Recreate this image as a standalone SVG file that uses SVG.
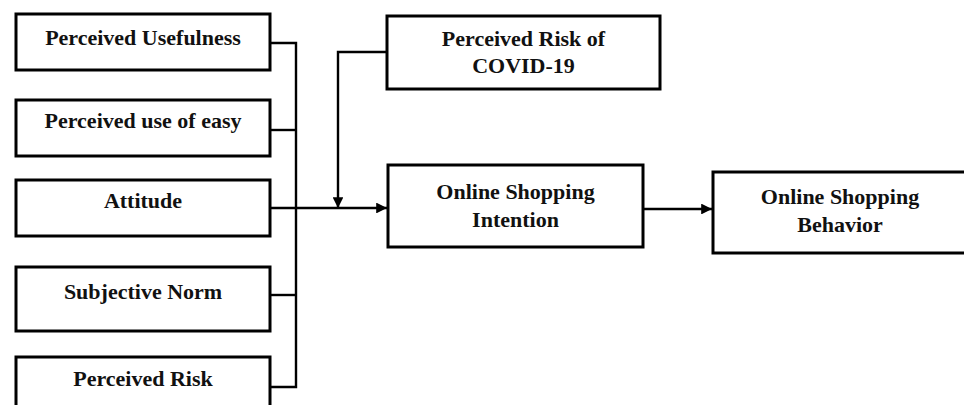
<svg xmlns="http://www.w3.org/2000/svg" width="964" height="405" viewBox="0 0 964 405">
<defs>
<style>
.box{fill:#fff;stroke:#000;stroke-width:3}
.t{font-family:"Liberation Serif","Times New Roman",serif;font-weight:bold;font-size:22px;fill:#111;text-anchor:middle}
.c{fill:none;stroke:#000;stroke-width:2.4}
</style>
<marker id="ah" viewBox="0 0 10 10" refX="10" refY="5" markerWidth="4.5" markerHeight="4.5" markerUnits="strokeWidth" orient="auto">
<path d="M0,0 L10,5 L0,10 Z" fill="#000"/>
</marker>
</defs>
<rect width="964" height="405" fill="#fff"/>
<g id="connectors">
<path class="c" d="M270,43 H296 V387 H270"/>
<path class="c" d="M270,130 H296"/>
<path class="c" d="M270,295 H296"/>
<path class="c" d="M270,208 H387" marker-end="url(#ah)"/>
<path class="c" d="M387,52 H338 V208" marker-end="url(#ah)"/>
<path class="c" d="M643,209 H712" marker-end="url(#ah)"/>
</g>
<g id="n1"><rect class="box" x="16" y="14" width="254" height="56"/><text class="t" x="143" y="45">Perceived Usefulness</text></g>
<g id="n2"><rect class="box" x="16" y="100" width="254" height="56"/><text class="t" x="143" y="128">Perceived use of easy</text></g>
<g id="n3"><rect class="box" x="16" y="180" width="254" height="56"/><text class="t" x="143" y="208">Attitude</text></g>
<g id="n4"><rect class="box" x="16" y="267" width="254" height="64"/><text class="t" x="143" y="299">Subjective Norm</text></g>
<g id="n5"><rect class="box" x="16" y="357" width="254" height="60"/><text class="t" x="143" y="386">Perceived Risk</text></g>
<g id="n6"><rect class="box" x="387" y="16" width="273" height="73"/><text class="t" x="523.5" y="46">Perceived Risk of</text><text class="t" x="523.5" y="73">COVID-19</text></g>
<g id="n7"><rect class="box" x="388" y="165" width="255" height="82"/><text class="t" x="515.5" y="199">Online Shopping</text><text class="t" x="515.5" y="227">Intention</text></g>
<g id="n8"><rect class="box" x="713" y="172" width="260" height="81"/><text class="t" x="840" y="204">Online Shopping</text><text class="t" x="840" y="232">Behavior</text></g>
</svg>
